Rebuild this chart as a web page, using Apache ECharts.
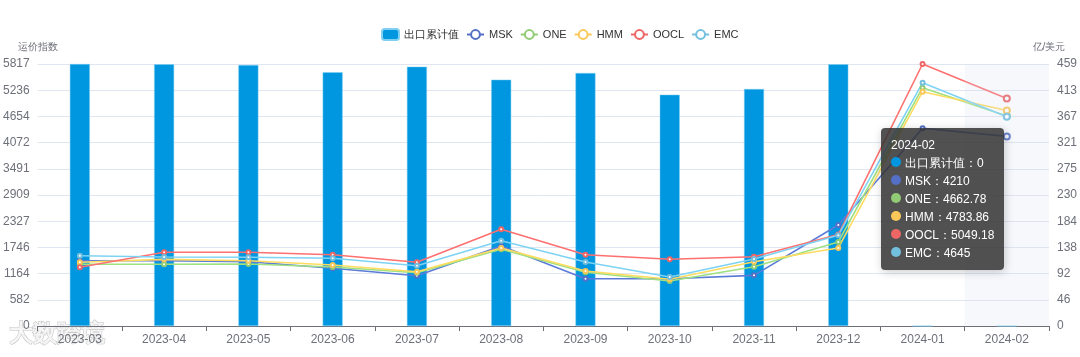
<!DOCTYPE html>
<html>
<head>
<meta charset="utf-8">
<script src="https://cdn.jsdelivr.net/npm/echarts@6/dist/echarts.min.js"></script>
<style>html,body{margin:0;padding:0;background:#fff}#c{width:1080px;height:357px}</style>
</head>
<body>
<div id="c"></div>
<script>
var categories = ['2023-03','2023-04','2023-05','2023-06','2023-07','2023-08','2023-09','2023-10','2023-11','2023-12','2024-01','2024-02'];
var exportValues = [459, 458.5, 457.2, 444.5, 454.3, 431.5, 443.2, 405.2, 415.2, 458.6, 0, 0];
var msk  = [1450, 1450, 1428, 1281, 1117, 1776, 1050, 1050, 1125, 2242, 4389, 4210];
var one  = [1370, 1370, 1376, 1310, 1183, 1703, 1192,  999, 1317, 1865, 5290, 4662.78];
var hmm  = [1414, 1480, 1450, 1354, 1205, 1732, 1221, 1037, 1428, 1732, 5202, 4783.86];
var oocl = [1303, 1636, 1636, 1583, 1414, 2147, 1583, 1481, 1539, 2030, 5817, 5049.18];
var emc  = [1561, 1532, 1525, 1503, 1339, 1894, 1421, 1088, 1487, 2013, 5401, 4645];
var leftMax = 5817, rightMax = 459;

var chart = echarts.init(document.getElementById('c'));
var gray = '#6E7079';
function lineSeries(name, data, color) {
  return {name: name, type: 'line', yAxisIndex: 0, data: data, symbol: 'emptyCircle', symbolSize: 4,
    itemStyle: {color: color}, lineStyle: {width: 1.6, color: color}};
}
chart.setOption({
  animation: false,
  color: ['#0096E0','#5470c6','#91cc75','#fac858','#ee6666','#73c0de'],
  legend: {top: 23, left: 376, itemWidth: 17, itemHeight: 11, itemGap: 7,
    textStyle: {color: '#333', fontSize: 11},
    data: ['出口累计值','MSK','ONE','HMM','OOCL','EMC']},
  tooltip: {trigger: 'axis', alwaysShowContent: true,
    axisPointer: {type: 'shadow', shadowStyle: {color: 'rgba(210,219,238,0.2)'}},
    backgroundColor: 'rgba(50,50,50,0.85)', borderWidth: 0, padding: [8, 10],
    textStyle: {color: '#fff', fontSize: 12},
    position: function () { return [881, 128]; },
    formatter: function (ps) {
      var s = ps[0].axisValue;
      ps.forEach(function (p) { s += '<br/>' + p.marker + p.seriesName + '：' + p.value; });
      return s;
    }},
  grid: {left: 33, right: 30, top: 64, bottom: 31},
  xAxis: {type: 'category', data: categories, boundaryGap: true,
    axisLine: {lineStyle: {color: gray}}, axisTick: {show: true},
    axisLabel: {color: gray, fontSize: 12, interval: 0}},
  yAxis: [
    {type: 'value', name: '运价指数', min: 0, max: leftMax, interval: leftMax / 10,
      nameTextStyle: {color: gray, fontSize: 10, align: 'center'}, nameGap: 12,
      axisLabel: {color: gray, fontSize: 12, formatter: function (v) { return Math.ceil(v - 1e-9); }},
      splitLine: {lineStyle: {color: '#E0E6F1'}}},
    {type: 'value', name: '亿/美元', min: 0, max: rightMax, interval: rightMax / 10,
      nameTextStyle: {color: gray, fontSize: 10, align: 'center'}, nameGap: 12,
      axisLabel: {color: gray, fontSize: 12, formatter: function (v) { return Math.round(v); }},
      splitLine: {show: false}}
  ],
  graphic: [{type: 'text', left: 8, top: 322, silent: true,
    style: {text: '大数跨境', fontSize: 24, fontWeight: 'bold', fill: 'rgba(255,255,255,0.85)', stroke: 'rgba(150,150,150,0.6)', lineWidth: 1}}],
  series: [
    {name: '出口累计值', type: 'bar', yAxisIndex: 1, data: exportValues, barWidth: 20,
      itemStyle: {color: '#0096E0', borderColor: '#7fd0f0', borderWidth: 0.5}},
    lineSeries('MSK', msk, '#5470c6'),
    lineSeries('ONE', one, '#91cc75'),
    lineSeries('HMM', hmm, '#fac858'),
    lineSeries('OOCL', oocl, '#ee6666'),
    lineSeries('EMC', emc, '#73c0de')
  ]
});
chart.dispatchAction({type: 'showTip', seriesIndex: 0, dataIndex: 11});
</script>
</body>
</html>
